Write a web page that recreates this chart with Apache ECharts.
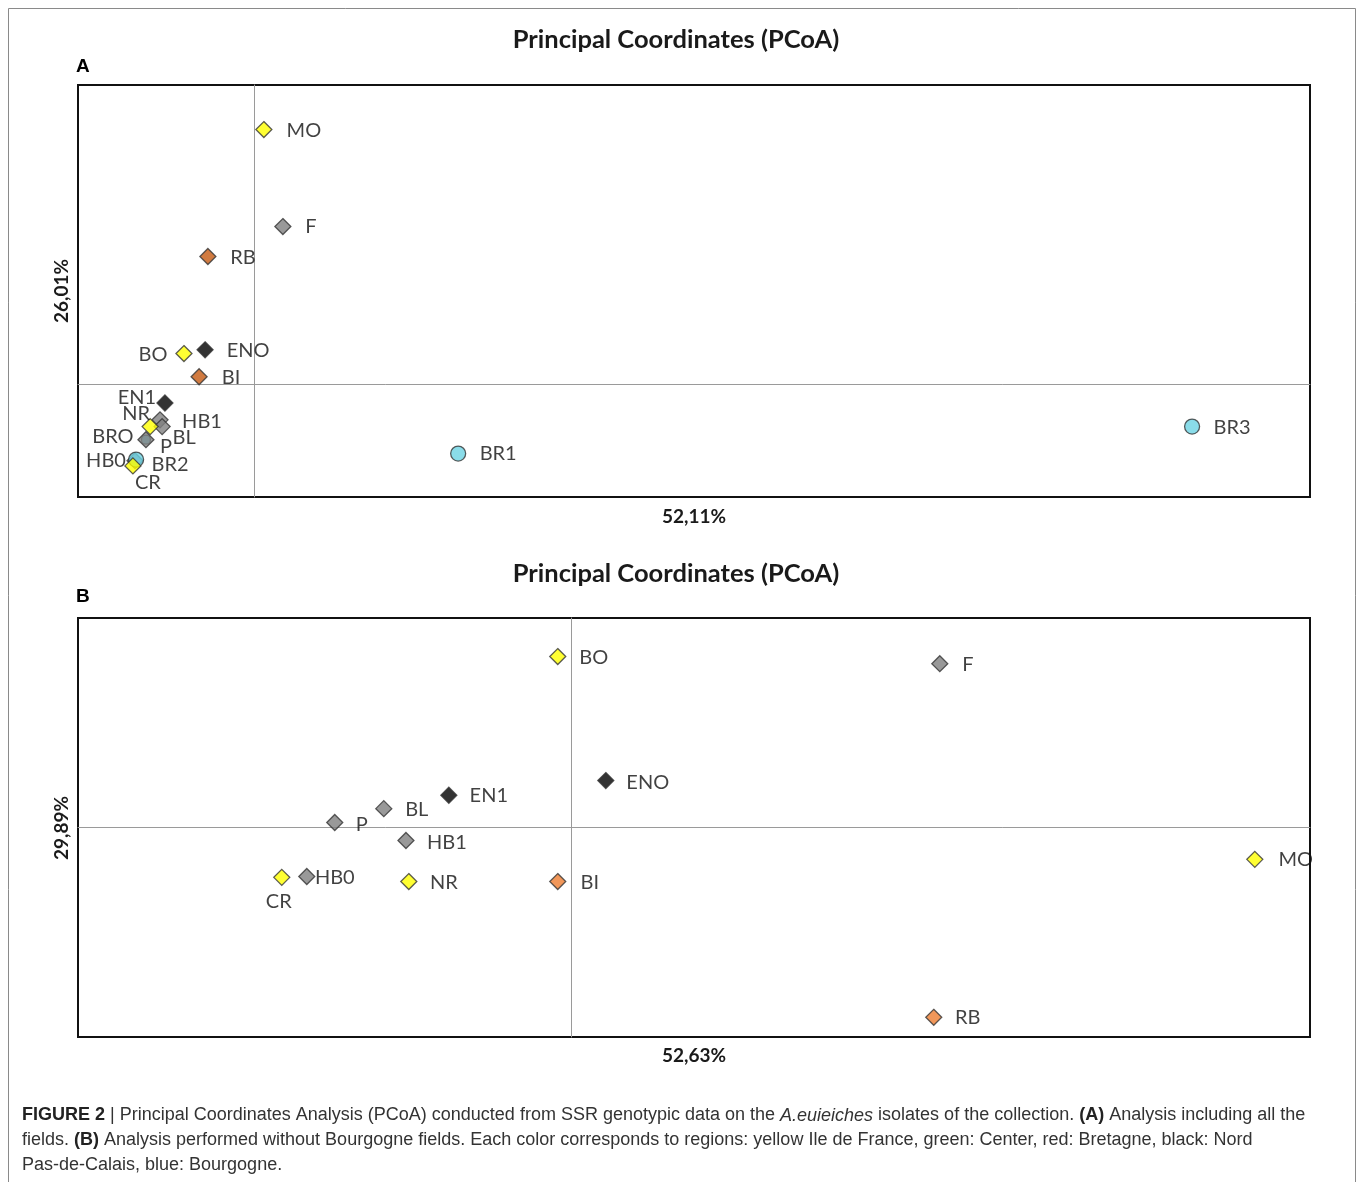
<!DOCTYPE html>
<html><head><meta charset="utf-8">
<script src="https://cdn.jsdelivr.net/npm/echarts@6/dist/echarts.min.js"></script>
<style>html,body{margin:0;padding:0;background:#fff}#c{width:1358px;height:1182px}</style>
</head><body><div id="c"></div>
<script>
// ---- Panel A data (PCoA axis 1: 52,11%, axis 2: 26,01%) ----
const namesA  = ['MO','F','RB','BO','ENO','BI','BRO','EN1','HB1','BL','NR','P','HB0','BR2','CR','BR1','BR3'];
const xA      = [0.028,0.082,-0.131,-0.199,-0.139,-0.156,-0.307,-0.253,-0.267,-0.261,-0.295,-0.307,-0.338,-0.335,-0.344,0.580,2.665];
const yA      = [0.681,0.422,0.342,0.083,0.093,0.021,-0.147,-0.049,-0.094,-0.112,-0.112,-0.147,-0.203,-0.200,-0.217,-0.184,-0.112];
const regionA = ['IDF','CEN','BRE','IDF','NPC','BRE','BOU','NPC','CEN','CEN','IDF','CEN','CEN','BOU','IDF','BOU','BOU'];

// ---- Panel B data (PCoA axis 1: 52,63%, axis 2: 29,89%) ----
const namesB  = ['BO','F','ENO','EN1','BL','P','HB1','HB0','CR','NR','BI','MO','RB'];
const xB      = [-0.0106,0.2995,0.0284,-0.0990,-0.1518,-0.1916,-0.1338,-0.2143,-0.2346,-0.1315,-0.0106,0.5552,0.2946];
const yB      = [0.408,0.391,0.112,0.077,0.045,0.012,-0.031,-0.117,-0.119,-0.129,-0.129,-0.076,-0.453];
const regionB = ['IDF','CEN','NPC','NPC','CEN','CEN','CEN','CEN','IDF','IDF','BRE','IDF','BRE'];

const titleText = 'Principal Coordinates (PCoA)';
const axisNamesA = ['52,11%','26,01%'];
const axisNamesB = ['52,63%','29,89%'];

// ---- styles ----
const colorA = {IDF:'#FFFF00',CEN:'#7F7F7F',BRE:'#C55A11',NPC:'#000000',BOU:'#6DD3E3'};
const colorB = {IDF:'#FFFF00',CEN:'#7F7F7F',BRE:'#ED7D31',NPC:'#000000',BOU:'#6DD3E3'};
// label offsets (text centre relative to marker), pixels
const labOffA = {MO:[40,1],F:[28,0],RB:[35,1],BO:[-31,1],ENO:[43,1],BI:[32,1],BRO:[-33,-3],EN1:[-28,-5],
  HB1:[42,2],BL:[22,11],NR:[-14,-13],P:[20,7],HB0:[-29,0],BR2:[34,5],CR:[15,17],BR1:[40,0],BR3:[40,1]};
const labOffB = {BO:[36,1],F:[28,1],ENO:[42,2],EN1:[40,0],BL:[33,1],P:[27,2],HB1:[41,2],HB0:[28,1],
  CR:[-3,24],NR:[35,1],BI:[32,1],MO:[41,0],RB:[34,0]};

function buildData(names,xs,ys,regions,colors,offs){
  return names.map((n,i)=>{
    const isCircle = regions[i]==='BOU';
    return {
      name:n, value:[xs[i],ys[i]],
      symbol: isCircle ? 'circle' : 'diamond',
      symbolSize: isCircle ? (n==='BRO'?9:15) : 16,
      itemStyle:{color:colors[regions[i]],borderColor:'#333',borderWidth:1.3},
      label:{show: true, position:'inside', offset: offs[n]||[30,0], formatter:n}
    };
  });
}

const fontLab = 'Lato, "Open Sans", sans-serif';
function axes(gi, xmin, xmax, ymin, ymax){
  return {
    x:{gridIndex:gi,type:'value',min:xmin,max:xmax,splitLine:{show:false},axisTick:{show:false},axisLabel:{show:false},
       axisLine:{show:true,onZero:true,lineStyle:{color:'#9a9a9a',width:1}}},
    y:{gridIndex:gi,type:'value',min:ymin,max:ymax,splitLine:{show:false},axisTick:{show:false},axisLabel:{show:false},
       axisLine:{show:true,onZero:true,lineStyle:{color:'#9a9a9a',width:1}}}
  };
}
const aA = axes(0,-0.5,3.0,-0.3,0.8);
const aB = axes(1,-0.4,0.6,-0.5,0.5);

const labelStyle = {color:'#111',fontSize:20,fontFamily:fontLab};
const titleStyle = {fontSize:25.5,fontWeight:'bold',fill:'#1a1a1a',fontFamily:fontLab};
const axNameStyle = {fontSize:19,fontWeight:'bold',fill:'#1a1a1a',fontFamily:fontLab};

const chart = echarts.init(document.getElementById('c'),null,{renderer:'canvas'});
chart.setOption({
  animation:false,
  backgroundColor:'#fff',
  grid:[
    {left:78,top:85,width:1232,height:412,show:true,borderColor:'#111',borderWidth:2,backgroundColor:'transparent'},
    {left:78,top:618,width:1232,height:419,show:true,borderColor:'#111',borderWidth:2,backgroundColor:'transparent'}
  ],
  xAxis:[aA.x,aB.x],
  yAxis:[aA.y,aB.y],
  series:[
    {type:'scatter',xAxisIndex:0,yAxisIndex:0,data:buildData(namesA,xA,yA,regionA,colorA,labOffA),
     label:labelStyle,z:5},
    {type:'scatter',xAxisIndex:1,yAxisIndex:1,data:buildData(namesB,xB,yB,regionB,colorB,labOffB),
     label:labelStyle,z:5}
  ],
  graphic:[
    {type:'rect',shape:{x:8.5,y:8.5,width:1347,height:1190},style:{fill:'none',stroke:'#8a8a8a',lineWidth:1},z:-10},
    {type:'text',x:676,y:40,style:Object.assign({text:titleText,align:'center',verticalAlign:'middle'},titleStyle)},
    {type:'text',x:676,y:574,style:Object.assign({text:titleText,align:'center',verticalAlign:'middle'},titleStyle)},
    {type:'text',x:76,y:67,style:{text:'A',fontSize:19,fontWeight:'bold',fontFamily:'"Liberation Sans", Arial, sans-serif',fill:'#000',verticalAlign:'middle'}},
    {type:'text',x:76,y:597,style:{text:'B',fontSize:19,fontWeight:'bold',fontFamily:'"Liberation Sans", Arial, sans-serif',fill:'#000',verticalAlign:'middle'}},
    {type:'text',x:694,y:517,style:Object.assign({text:axisNamesA[0],align:'center',verticalAlign:'middle'},axNameStyle)},
    {type:'text',x:694,y:1056,style:Object.assign({text:axisNamesB[0],align:'center',verticalAlign:'middle'},axNameStyle)},
    {type:'text',x:62,y:291,rotation:Math.PI/2,style:Object.assign({text:axisNamesA[1],align:'center',verticalAlign:'middle'},axNameStyle)},
    {type:'text',x:62,y:828,rotation:Math.PI/2,style:Object.assign({text:axisNamesB[1],align:'center',verticalAlign:'middle'},axNameStyle)},
    {type:'text',x:22,y:1103,style:{
      text:'{b|FIGURE 2} | Principal Coordinates Analysis (PCoA) conducted from SSR genotypic data on the {i|A.euieiches} isolates of the collection. {b|(A)} Analysis including all the\nfields. {b|(B)} Analysis performed without Bourgogne fields. Each color corresponds to regions: yellow Ile de France, green: Center, red: Bretagne, black: Nord\nPas-de-Calais, blue: Bourgogne.',
      fontSize:18,lineHeight:25,fontFamily:'"Liberation Sans", Arial, sans-serif',fill:'#333',
      rich:{b:{fontWeight:'bold',fontSize:18,fontFamily:'"Liberation Sans", Arial, sans-serif',fill:'#222'},
            i:{fontStyle:'italic',fontSize:18,fontFamily:'"Liberation Sans", Arial, sans-serif',fill:'#333'}}
    }}
  ]
});
</script></body></html>
